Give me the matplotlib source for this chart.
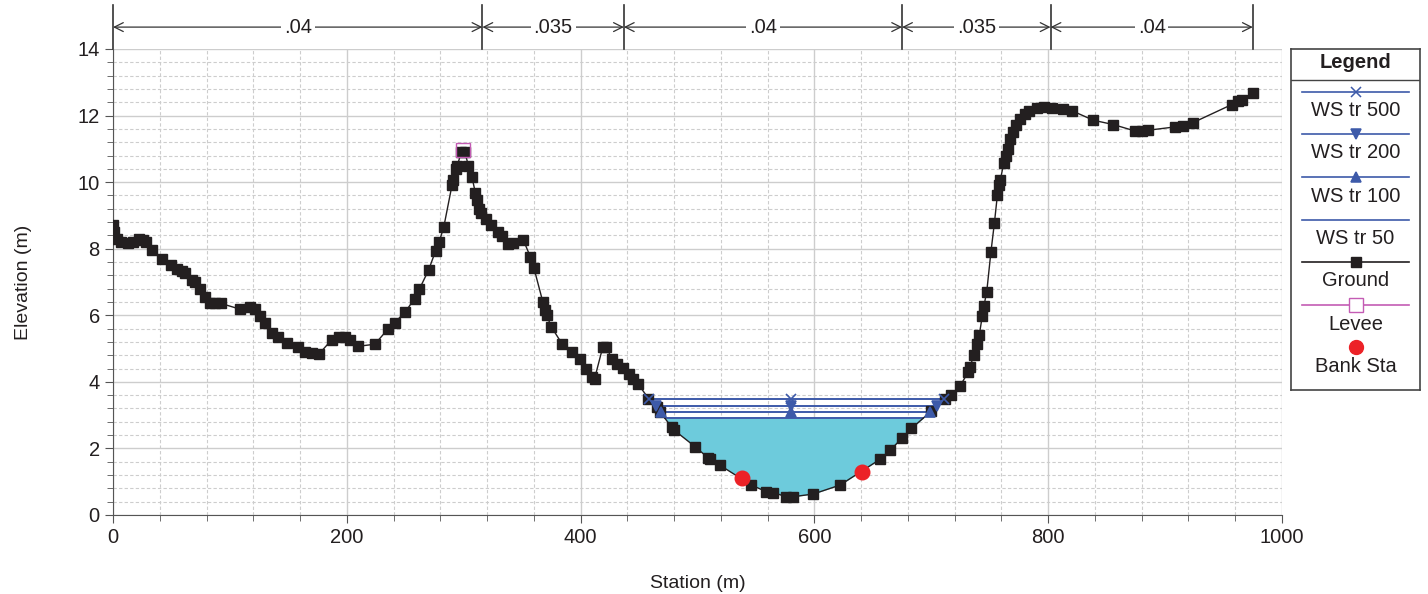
import numpy as np
import matplotlib
matplotlib.use("Agg")
import matplotlib.pyplot as plt
from matplotlib.ticker import MultipleLocator

plt.rcParams['font.family'] = ['Liberation Sans', 'DejaVu Sans']

# ground profile (station, elevation)
station = [0, 1, 3, 7, 13, 17, 22, 26, 28, 33, 42, 50, 54.5, 59, 62, 68, 70, 74, 79, 83,
           87, 92, 109, 117, 121.5, 126, 130, 136, 141, 149, 158, 164, 170, 176, 187, 193,
           198.5, 203, 210, 224, 235.5, 241, 250, 258, 262, 270, 276, 279, 283, 290, 291,
           293.5, 294.5, 298, 301, 304, 307, 310, 311, 313, 315, 319, 323, 329, 333, 338,
           342, 351, 357, 360, 367.6, 369.5, 371, 375, 384, 393, 399.5, 405, 409.5, 412,
           419, 422, 426.6, 431, 436.5, 441.6, 445, 449, 458, 465, 468, 478, 480, 498,
           509, 511, 519, 546, 559, 565, 576, 582, 599, 622, 656, 665, 674.6, 683, 700,
           712, 717, 724.5, 731.7, 733, 736.5, 739, 741, 743.6, 745, 747.4, 751, 754,
           756.5, 758, 759, 762, 763.6, 765.3, 767.3, 769.6, 772.4, 776, 780, 784, 790,
           796, 803, 813, 820, 838.6, 855.7, 874, 880, 885.6, 908.5, 915.6, 924, 957,
           962.6, 965.5, 975]
elevation = [8.70, 8.50, 8.30, 8.20, 8.16, 8.20, 8.30, 8.26, 8.20, 7.96, 7.70, 7.50, 7.38,
             7.33, 7.28, 7.06, 7.00, 6.78, 6.54, 6.38, 6.36, 6.36, 6.18, 6.25, 6.20, 5.98,
             5.78, 5.48, 5.36, 5.18, 5.06, 4.90, 4.86, 4.83, 5.26, 5.36, 5.36, 5.25, 5.07,
             5.13, 5.60, 5.78, 6.10, 6.50, 6.78, 7.36, 7.94, 8.20, 8.66, 9.91, 10.06, 10.38,
             10.50, 10.90, 10.90, 10.50, 10.16, 9.68, 9.46, 9.20, 9.06, 8.88, 8.71, 8.51,
             8.38, 8.14, 8.18, 8.26, 7.76, 7.43, 6.41, 6.16, 6.00, 5.65, 5.15, 4.90, 4.70,
             4.40, 4.15, 4.10, 5.05, 5.05, 4.70, 4.55, 4.43, 4.25, 4.10, 3.95, 3.50, 3.25,
             3.10, 2.63, 2.55, 2.05, 1.72, 1.68, 1.50, 0.90, 0.70, 0.67, 0.55, 0.55, 0.63,
             0.90, 1.67, 1.95, 2.30, 2.60, 3.12, 3.50, 3.60, 3.87, 4.30, 4.45, 4.80, 5.15,
             5.40, 5.97, 6.28, 6.70, 7.90, 8.78, 9.60, 9.90, 10.05, 10.58, 10.80, 11.00,
             11.30, 11.50, 11.71, 11.90, 12.06, 12.15, 12.24, 12.26, 12.24, 12.20, 12.15,
             11.86, 11.73, 11.54, 11.53, 11.56, 11.66, 11.69, 11.79, 12.33, 12.43, 12.48,
             12.68]

ws_names = ['WS tr 500', 'WS tr 200', 'WS tr 100', 'WS tr 50']
ws_levels = [3.47, 3.28, 3.08, 2.90]
ws_markers = ['x', 'v', '^', None]
ws_mid = 580

levee_sta = [299]
levee_elev = [10.97]
bank_sta = [538, 641]
bank_elev = [1.12, 1.28]

n_breaks = [0, 316, 437, 675, 802, 975]
n_values = ['.04', '.035', '.04', '.035', '.04']

TXT = '#231f20'
WS_C = '#3d5aa9'
FILL_C = '#6dcbdc'
LEVEE_C = '#c45cb4'
BANK_C = '#ec2227'
GRID_C = '#cdcdcd'

gx = np.array(station, dtype=float)
gy = np.array(elevation, dtype=float)

fig = plt.figure(figsize=(14.28, 5.94), dpi=100)
ax = fig.add_axes([113 / 1428, 1 - 515 / 594, (1282 - 113) / 1428, (515 - 49) / 594])
ax.set_xlim(0, 1000)
ax.set_ylim(0, 14)
ax.xaxis.set_major_locator(MultipleLocator(200))
ax.xaxis.set_minor_locator(MultipleLocator(40))
ax.yaxis.set_major_locator(MultipleLocator(2))
ax.yaxis.set_minor_locator(MultipleLocator(0.4))
ax.grid(which='major', color=GRID_C, lw=1.0, ls='-')
ax.grid(which='minor', color=GRID_C, lw=0.8, ls=(0, (3, 2)))
ax.set_axisbelow(True)
for s in ['top', 'right']:
    ax.spines[s].set_visible(False)
for s in ['left', 'bottom']:
    ax.spines[s].set_color('#555555')
ax.tick_params(which='major', length=6, color='#555555', labelsize=14.5, labelcolor=TXT)
ax.tick_params(which='minor', length=4, color='#555555')
ax.set_xlabel('Station (m)', fontsize=14, color=TXT, labelpad=20)
ax.set_ylabel('Elevation (m)', fontsize=14, color=TXT, labelpad=33)

# water surfaces
xs_dense = np.linspace(440, 730, 5801)
gs_dense = np.interp(xs_dense, gx, gy)
for name, lev, mk in zip(ws_names, ws_levels, ws_markers):
    wet = gs_dense < lev
    xl, xr = xs_dense[wet].min(), xs_dense[wet].max()
    if mk is None:
        m = (gx > xl) & (gx < xr)
        fx = np.concatenate([[xl], gx[m], [xr]])
        fy = np.concatenate([[lev], gy[m], [lev]])
        ax.fill_between(fx, fy, lev, color=FILL_C, lw=0, zorder=2)
    ax.plot([xl, xr], [lev, lev], color=WS_C, lw=1.4, zorder=3)
    if mk is not None:
        ax.plot([xl, ws_mid, xr], [lev] * 3, ls='none', marker=mk, color=WS_C,
                ms=7, mew=1.2, zorder=6)

ax.plot(gx, gy, color=TXT, lw=1, marker='s', ms=6.8, zorder=4)
ax.plot(levee_sta, levee_elev, ls='none', marker='s', ms=9.5, mfc='none',
        mec=LEVEE_C, mew=1, zorder=5)
ax.plot(bank_sta, bank_elev, ls='none', marker='o', ms=10.5, color=BANK_C, zorder=5)

# Manning's n zones above the plot
trans = ax.get_xaxis_transform()
for b in n_breaks:
    ax.plot([b, b], [1.0, 1.094], transform=trans, color='#333333', lw=1.2, clip_on=False)
for i, lab in enumerate(n_values):
    a, b = n_breaks[i], n_breaks[i + 1]
    ax.annotate('', xy=(a, 1.047), xytext=(b, 1.047), xycoords=trans, textcoords=trans,
                arrowprops=dict(arrowstyle='<->', color='#333333', lw=0.9,
                                shrinkA=0, shrinkB=0, mutation_scale=16))
    ax.text((a + b) / 2, 1.047, lab, transform=trans, ha='center', va='center',
            fontsize=14.5, color=TXT,
            bbox=dict(facecolor='white', edgecolor='none', pad=2))

# legend box
lg = fig.add_axes([1291 / 1428, 1 - 390 / 594, 129 / 1428, 341 / 594])
lg.set_xlim(0, 129)
lg.set_ylim(341, 0)
lg.set_xticks([])
lg.set_yticks([])
for s in lg.spines.values():
    s.set_color('#444444')
    s.set_linewidth(1.2)
lg.text(64.5, 14, 'Legend', ha='center', va='center', fontsize=14.5, fontweight='bold', color=TXT)
lg.plot([0, 129], [31, 31], color='#444444', lw=1)
ly = [43, 85, 128, 171, 213, 256, 298]
for k, (name, mk) in enumerate(zip(ws_names, ws_markers)):
    lg.plot([11, 118], [ly[k], ly[k]], color=WS_C, lw=1.2)
    if mk is not None:
        lg.plot([64.5], [ly[k]], marker=mk, color=WS_C, ms=7, mew=1.1)
    lg.text(64.5, ly[k] + 19, name, ha='center', va='center', fontsize=14.5, color=TXT)
lg.plot([11, 118], [ly[4]] * 2, color=TXT, lw=1.2)
lg.plot([64.5], [ly[4]], marker='s', color=TXT, ms=7)
lg.text(64.5, ly[4] + 19, 'Ground', ha='center', va='center', fontsize=14.5, color=TXT)
lg.plot([11, 118], [ly[5]] * 2, color=LEVEE_C, lw=1.2)
lg.plot([64.5], [ly[5]], marker='s', ms=10, mfc='white', mec=LEVEE_C, mew=1)
lg.text(64.5, ly[5] + 19, 'Levee', ha='center', va='center', fontsize=14.5, color=TXT)
lg.plot([64.5], [ly[6]], marker='o', ms=10, color=BANK_C)
lg.text(64.5, ly[6] + 19, 'Bank Sta', ha='center', va='center', fontsize=14.5, color=TXT)

fig.savefig('out.png', dpi=100)
